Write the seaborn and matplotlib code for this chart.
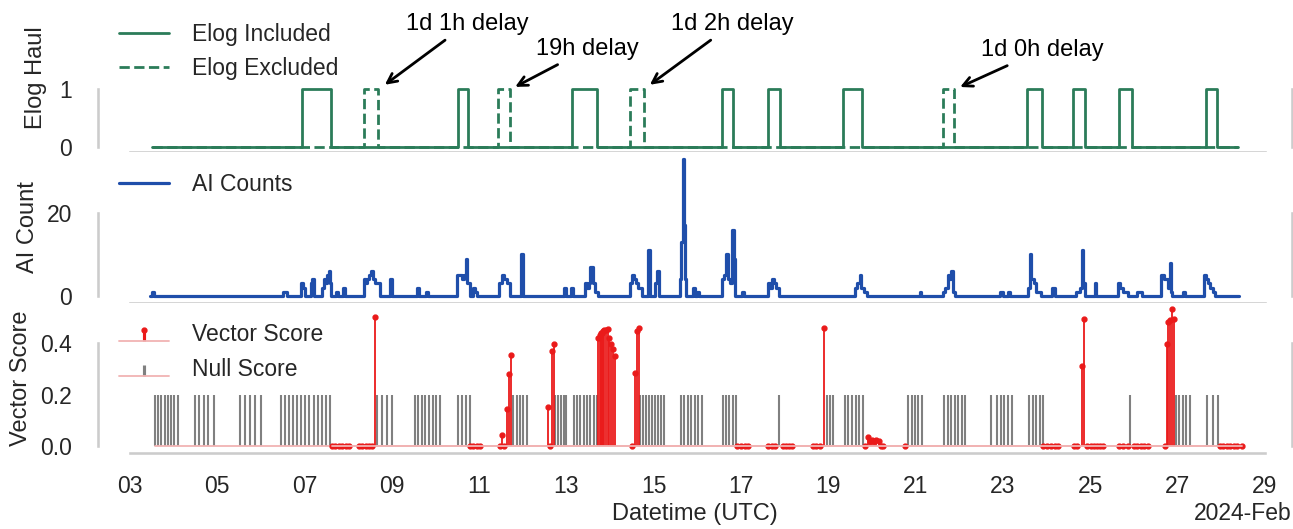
import numpy as np
import pandas as pd
import seaborn as sns
import matplotlib.pyplot as plt
import matplotlib.dates as mdates

# days are fractional days of February 2024 (UTC)
elog_inc_day = [3.50, 6.94, 7.60, 10.51, 10.74, 13.13, 13.70, 16.56, 16.81, 17.62, 17.89,
                19.33, 19.77, 23.55, 23.89, 24.60, 24.88, 25.66, 25.96, 27.65, 27.90, 28.38]
elog_inc_val = [0, 1, 0, 1, 0, 1, 0, 1, 0, 1, 0, 1, 0, 1, 0, 1, 0, 1, 0, 1, 0, 0]
elog_exc_day = [3.50, 8.36, 8.68, 11.43, 11.71, 14.45, 14.78, 21.63, 21.88, 28.38]
elog_exc_val = [0, 1, 0, 1, 0, 1, 0, 1, 0, 0]

ai_day = [3.46, 3.50, 3.56, 6.50, 6.60, 6.93, 6.97, 7.01, 7.14, 7.18, 7.22,
          7.40, 7.44, 7.48, 7.52, 7.56, 7.58, 7.61, 7.73, 7.77, 7.89, 7.93,
          8.36, 8.40, 8.44, 8.48, 8.52, 8.56, 8.62, 8.72, 8.95, 9.00, 9.58, 9.63, 9.79, 9.84,
          10.50, 10.60, 10.66, 10.70, 10.73, 10.78, 10.86, 10.91, 10.95,
          11.46, 11.52, 11.58, 11.64, 11.70, 11.97, 12.01,
          12.95, 13.00, 13.10, 13.15, 13.43, 13.47, 13.52, 13.55, 13.61, 13.66, 13.72,
          14.45, 14.50, 14.55, 14.60, 14.65, 14.73, 14.87, 14.92, 15.04, 15.08, 15.13,
          15.60, 15.63, 15.66, 15.69, 15.72, 15.74, 15.90, 15.94, 16.00, 16.04,
          16.57, 16.62, 16.66, 16.70, 16.75, 16.80, 16.83, 16.87, 17.03, 17.07,
          17.61, 17.66, 17.71, 17.76, 17.80, 17.86,
          19.60, 19.66, 19.72, 19.75, 19.82, 19.88, 21.09, 21.13,
          21.62, 21.68, 21.73, 21.77, 21.80, 21.85, 21.90, 22.94, 22.99, 23.12, 23.17,
          23.58, 23.62, 23.65, 23.70, 23.76, 23.88, 24.13, 24.18,
          24.68, 24.77, 24.81, 24.84, 24.87, 25.10, 25.14, 25.64, 25.69, 25.74, 25.86,
          26.06, 26.18, 26.63, 26.68, 26.72, 26.78, 26.82, 26.85, 26.88, 27.12, 27.17,
          27.60, 27.65, 27.70, 27.75, 27.80, 27.85, 28.41]
ai_count = [0, 1, 0, 1, 0, 3, 2, 0, 3, 4, 0,
            2, 4, 3, 5, 6, 3, 0, 1, 0, 2, 0,
            4, 3, 4, 5, 6, 4, 3, 0, 4, 0, 2, 0, 1, 0,
            5, 4, 5, 9, 3, 0, 2, 1, 0,
            3, 5, 4, 3, 0, 10, 0,
            2, 0, 2, 0, 3, 2, 3, 7, 3, 1, 0,
            3, 5, 4, 3, 2, 0, 11, 0, 3, 6, 0,
            4, 13, 33, 17, 4, 0, 2, 0, 1, 0,
            4, 5, 10, 4, 3, 16, 9, 0, 1, 0,
            3, 2, 4, 3, 2, 0,
            2, 3, 5, 2, 1, 0, 1, 0,
            1, 2, 5, 4, 6, 1, 0, 1, 0, 1, 0,
            2, 10, 4, 3, 1, 0, 2, 0,
            1, 2, 11, 3, 0, 3, 0, 3, 2, 1, 0,
            1, 0, 5, 4, 4, 2, 8, 1, 0, 1, 0,
            5, 4, 3, 2, 1, 0, 0]

vec_day = [7.63, 7.71, 7.79, 7.87, 7.95, 8.02, 8.25, 8.32, 8.40, 8.47, 8.54, 8.61,
           10.79, 10.87, 10.94, 11.02, 11.48, 11.52, 11.57, 11.63, 11.69, 11.73,
           12.57, 12.63, 12.67, 12.71,
           13.73, 13.76, 13.79, 13.82, 13.84, 13.87, 13.90, 13.95, 13.98, 14.02, 14.07, 14.11,
           14.51, 14.57, 14.61, 14.66,
           16.91, 16.99, 17.08, 17.17, 17.61, 17.70, 17.78, 17.95, 18.03, 18.10, 18.16,
           18.64, 18.72, 18.80, 18.91,
           19.84, 19.91, 19.96, 20.00, 20.05, 20.09, 20.16, 20.21, 20.26, 20.75,
           23.91, 24.00, 24.09, 24.18, 24.27, 24.63, 24.70, 24.80, 24.85,
           24.93, 25.01, 25.08, 25.15, 25.22, 25.30, 25.66, 25.76, 25.87,
           25.99, 26.08, 26.16, 26.24, 26.33,
           26.70, 26.76, 26.78, 26.83, 26.88, 26.92,
           27.96, 28.04, 28.12, 28.20, 28.28, 28.36, 28.47]
vec_score = [0, 0, 0, 0, 0, 0, 0, 0, 0, 0, 0, 0.50,
             0, 0, 0, 0, 0, 0.043, 0, 0.145, 0.28, 0.355,
             0.15, 0.0, 0.37, 0.395,
             0.42, 0.43, 0.44, 0.44, 0.445, 0.45, 0.45, 0.455, 0.42, 0.395, 0.375, 0.35,
             0, 0.285, 0.445, 0.46,
             0, 0, 0, 0, 0, 0, 0, 0, 0, 0, 0,
             0, 0, 0, 0.46,
             0, 0.036, 0.02, 0.025, 0.02, 0.025, 0.02, 0.0, 0, 0,
             0, 0, 0, 0, 0, 0, 0, 0.31, 0.495,
             0, 0, 0, 0, 0, 0, 0, 0, 0,
             0, 0, 0, 0, 0,
             0, 0.395, 0.48, 0.49, 0.53, 0.495,
             0, 0, 0, 0, 0, 0, 0]

null_day = [3.57, 3.65, 3.72, 3.80, 3.87, 3.95, 4.02, 4.10,
            4.49, 4.59, 4.69, 4.79, 4.92,
            5.52, 5.63, 5.75, 5.86, 6.00,
            6.46, 6.55, 6.65, 6.74, 6.83, 6.93, 7.02, 7.11, 7.21, 7.30, 7.39, 7.49, 7.58,
            8.66, 8.77, 8.89, 9.00,
            9.53, 9.61, 9.69, 9.77, 9.86, 9.94, 10.02, 10.10,
            10.52, 10.61, 10.70, 10.78,
            11.78, 11.86, 11.93, 12.01, 12.09,
            12.74, 12.81, 12.88, 12.94, 13.00,
            13.17, 13.25, 13.32, 13.40, 13.48, 13.55, 13.63, 13.71,
            14.68, 14.75, 14.82, 14.89, 14.96, 15.02, 15.09, 15.16, 15.23,
            15.62, 15.70, 15.78, 15.86, 15.94, 16.02, 16.11,
            16.58, 16.66, 16.73, 16.81, 16.88,
            17.87,
            18.96, 19.04, 19.11,
            19.38, 19.46, 19.55, 19.63, 19.71, 19.80,
            20.83, 20.91, 20.98, 21.06, 21.14,
            21.65, 21.73, 21.81, 21.89, 21.97, 22.05, 22.13,
            22.72, 22.86, 22.95, 23.03, 23.12, 23.20,
            23.60, 23.68, 23.76, 23.84, 23.91,
            25.91,
            26.96, 27.04, 27.12, 27.20, 27.28,
            27.67, 27.80, 27.93]
null_value = 0.2

# delay annotations: (text, arrow tip day, tip y, text day, text y)
delays = [("1d 1h delay", 8.79, 1.04, 10.72, 2.12),
          ("19h delay", 11.77, 1.01, 13.49, 1.69),
          ("1d 2h delay", 14.86, 1.04, 16.81, 2.12),
          ("1d 0h delay", 21.96, 1.01, 23.89, 1.67)]

x_range = (2.27, 29.62)


def to_num(days):
    t = pd.Timestamp("2024-02-01") + pd.to_timedelta(np.asarray(days, dtype=float) - 1, unit="D")
    return mdates.date2num(t)


green = "#2b7c59"
blue = "#1f4eaa"
red = "#ea1a1a"
pink = "#f1b3b3"

sns.set_theme(context="talk", style="whitegrid", rc={"axes.grid": False})
plt.rcParams["font.family"] = ["Liberation Sans", "DejaVu Sans"]

fig, axes = plt.subplots(3, 1, sharex=True, figsize=(12.93, 5.29), dpi=100)
fig.subplots_adjust(left=98 / 1293, right=1292 / 1293, top=1 - 2 / 529,
                    bottom=1 - 453 / 529, hspace=0)
ax1, ax2, ax3 = axes
leg_kw = dict(loc="upper left", frameon=False, fontsize=16.5,
              handlelength=2.2, handletextpad=1.0)

# Elog haul
sns.lineplot(x=to_num(elog_exc_day), y=elog_exc_val, ax=ax1, color=green, lw=2,
             linestyle="--", drawstyle="steps-post", estimator=None, label="Elog Excluded")
sns.lineplot(x=to_num(elog_inc_day), y=elog_inc_val, ax=ax1, color=green, lw=2,
             drawstyle="steps-post", estimator=None, label="Elog Included")
h, l = ax1.get_legend_handles_labels()
ax1.legend(h[::-1], l[::-1], **leg_kw)
for txt, xd, yd, tx, ty in delays:
    ax1.annotate(txt, xy=(to_num([xd])[0], yd), xytext=(to_num([tx])[0], ty),
                 ha="center", va="center", fontsize=17, color="black",
                 arrowprops=dict(arrowstyle="->", color="black", lw=2))
ax1.set_ylim(-0.1, 2.5)
ax1.set_yticks([0, 1])
ax1.set_ylabel("Elog Haul", fontsize=17, labelpad=8.5)

# AI counts
sns.lineplot(x=to_num(ai_day), y=ai_count, ax=ax2, color=blue, lw=2.3,
             drawstyle="steps-post", estimator=None, label="AI Counts")
ax2.legend(**leg_kw)
ax2.set_yticks([0, 20])
ax2.set_ylabel("AI Count", fontsize=17, labelpad=5.5)

# vector / null scores
m0, s0, b0 = ax3.stem(to_num(null_day), [null_value] * len(null_day), label="Null Score")
m0.set_marker("None")
s0.set_color("grey")
s0.set_linewidth(1.5)
b0.set_color(pink)
b0.set_linewidth(1.3)
m1, s1, b1 = ax3.stem(to_num(vec_day), vec_score, label="Vector Score")
m1.set_color(red)
m1.set_markersize(3.5)
s1.set_color(red)
s1.set_linewidth(1.3)
b1.set_color(pink)
b1.set_linewidth(1.3)
ax3.legend(handles=[ax3.containers[1], ax3.containers[0]],
           labels=["Vector Score", "Null Score"], **leg_kw)
ax3.set_yticks([0.0, 0.2, 0.4])
ax3.set_ylabel("Vector Score", fontsize=17, labelpad=6)
ax3.set_xlabel("Datetime (UTC)", fontsize=17)

locator = mdates.DayLocator(bymonthday=range(3, 30, 2))
ax3.xaxis.set_major_locator(locator)
ax3.xaxis.set_major_formatter(mdates.ConciseDateFormatter(locator))
ax3.set_xlim(to_num([x_range[0]])[0], to_num([x_range[1]])[0])

for ax in axes:
    ax.tick_params(axis="x", pad=6.5)
    ax.tick_params(axis="y", pad=9.7)

sns.despine(fig=fig, right=False, trim=True)

fig.savefig("out.png", dpi=100)
